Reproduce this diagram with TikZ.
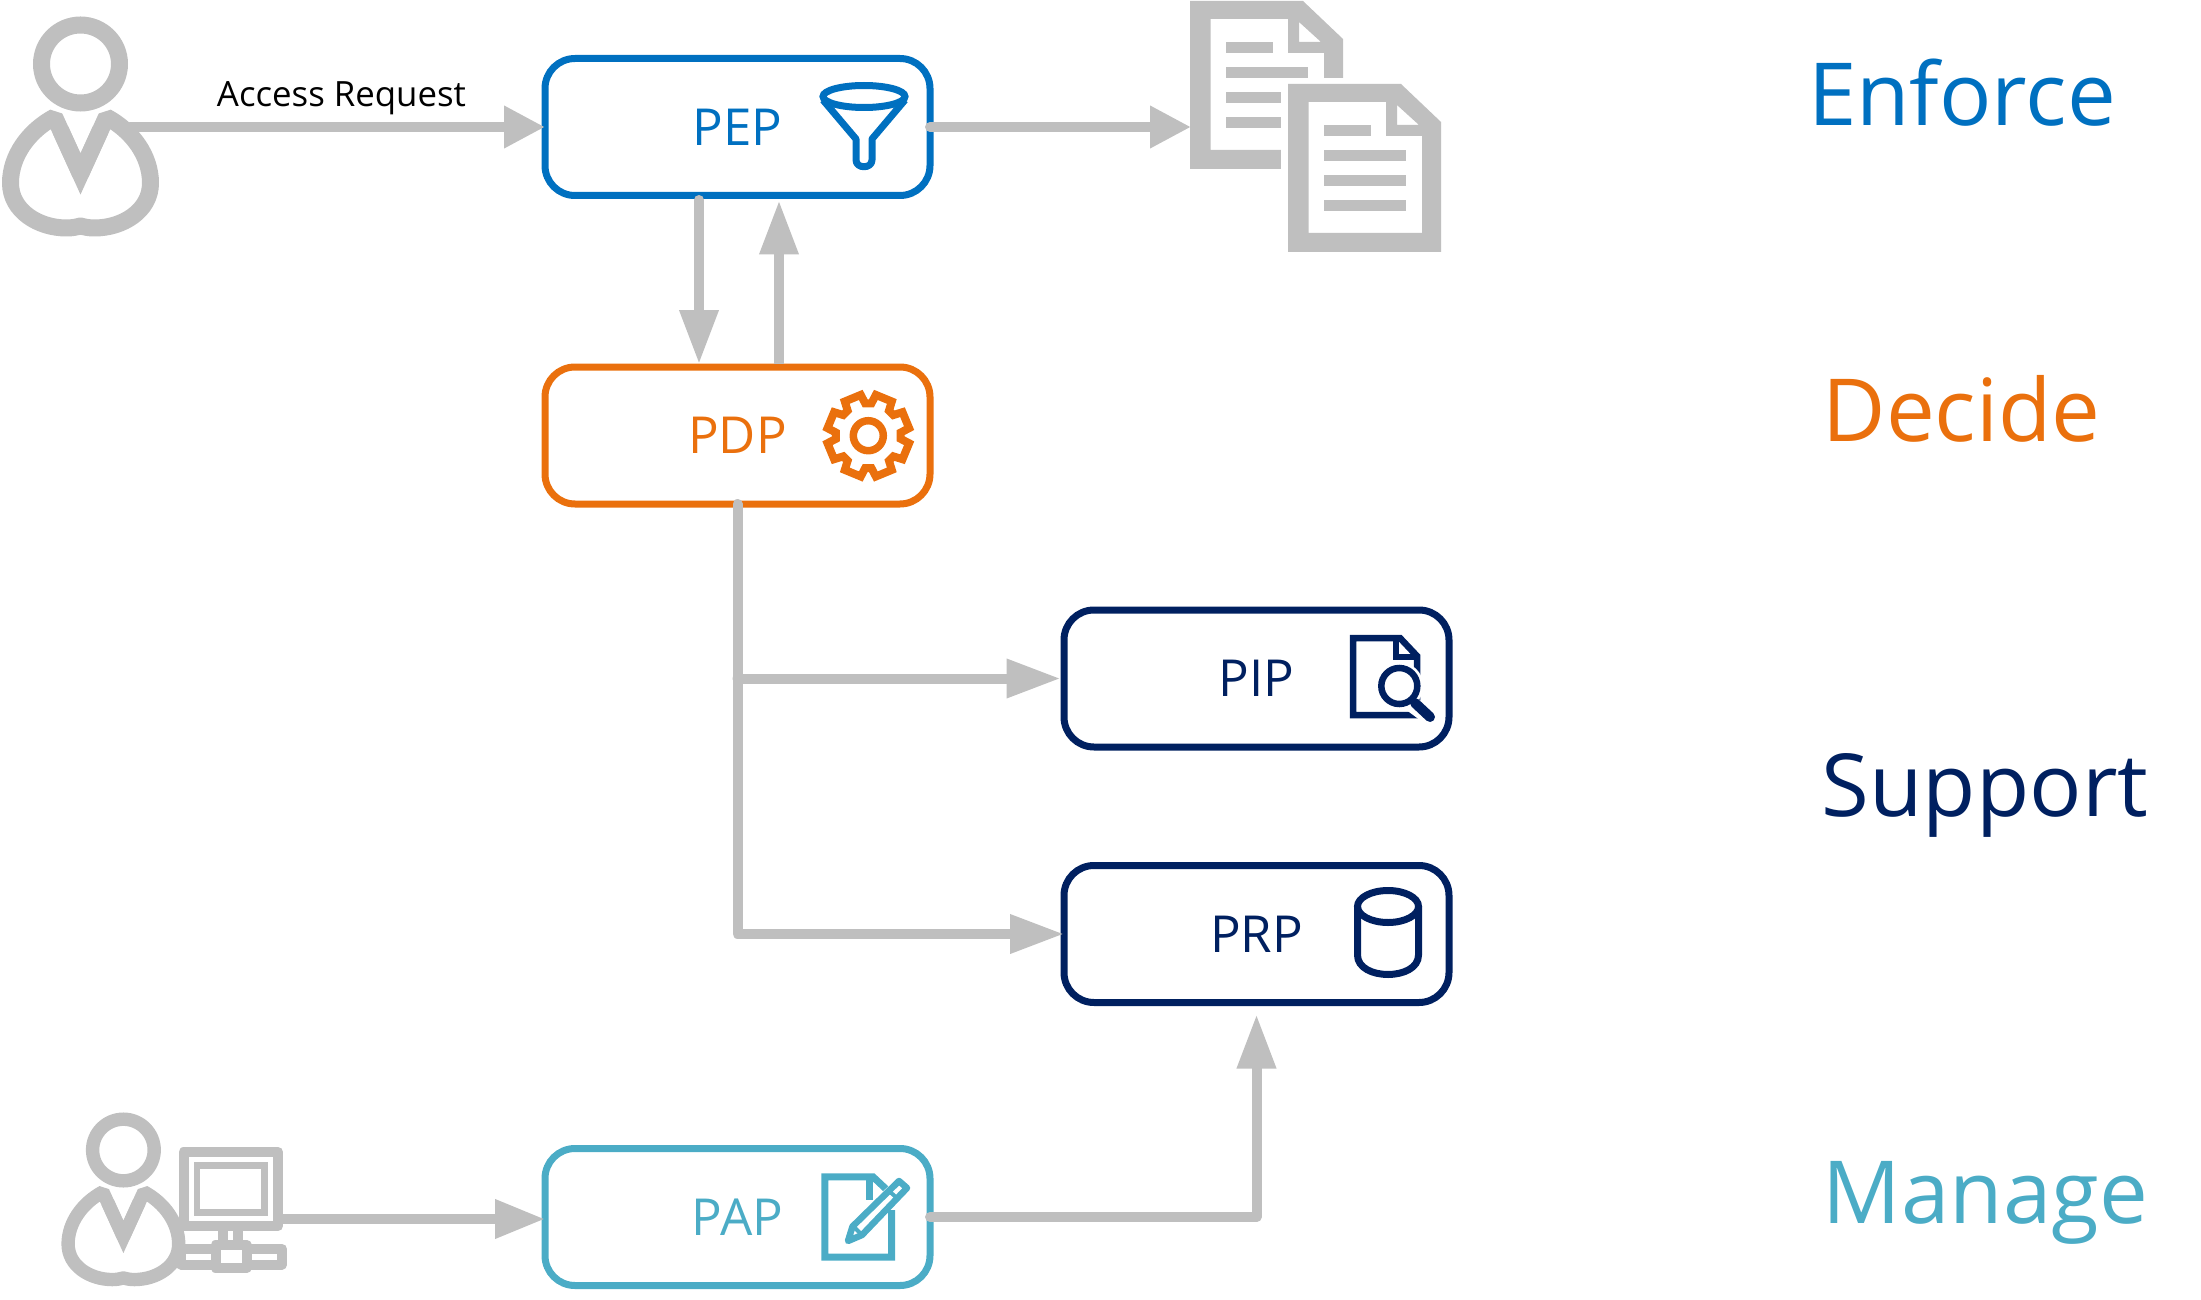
\documentclass[tikz,border=0pt]{standalone}
\usepackage{fontspec}
\setmainfont{Open Sans}
\usetikzlibrary{arrows.meta}

\definecolor{enforcecol}{HTML}{0070C0}
\definecolor{decidecol}{HTML}{EA700D}
\definecolor{supportcol}{HTML}{002060}
\definecolor{managecol}{HTML}{4BACC6}
\definecolor{flowcol}{HTML}{BFBFBF}

\tikzset{
  box/.style={draw=#1,text=#1,line width=7pt,rounded corners=30pt,minimum width=385pt,minimum height=137pt,
    inner sep=0pt,outer sep=0pt,font=\fontsize{51}{51}\selectfont},
  tier/.style={text=#1,anchor=base,inner sep=0pt,font=\fontsize{87}{87}\selectfont},
  flowline/.style={draw=flowcol,line width=10pt,line cap=round,line join=round},
  flow/.style={flowline,-{Triangle[length=#1,width=37pt]}},
  flow/.default=54pt,
  flowwide/.style={flowline,-{Triangle[length=41pt,width=40pt]}},
  icon/.style={draw=#1,line width=6.5pt},
  person/.pic={
    \draw[flowcol] (0,0) circle (39);
    \draw[flowcol,line join=bevel] (0,110) -- (-26,53) .. controls (-52,67) and (-70,92) .. (-70,119)
      .. controls (-70,147) and (-42,164) .. (-14,164) .. controls (-8,164) and (-4,163) .. (0,162)
      .. controls (4,163) and (8,164) .. (14,164) .. controls (42,164) and (70,147) .. (70,119)
      .. controls (70,92) and (52,67) .. (26,53) -- cycle;
    \draw[flowcol,line join=miter] (-20,66) -- (0,110) -- (20,66);
  },
  sheet/.pic={
    \fill[flowcol,even odd rule] (0,0) -- (113,0) -- (153,38) -- (153,168) -- (0,168) -- cycle
      (20.5,18) -- (98,18) -- (98,52) -- (134,52) -- (134,149) -- (20.5,149) -- cycle
      (109,21) -- (109,41) -- (131,41) -- cycle;
    \foreach \y/\w in {41/83,66/118,91/118,116/118}
      \fill[flowcol] (36,\y) rectangle (\w,\y+11);
  }
}

\begin{document}
\begin{tikzpicture}[x=1pt,y=-1pt]
  \useasboundingbox (0,0) rectangle (2201,1300);

  \node[box=enforcecol] (pep) at (737.5,127) {PEP};
  \node[box=decidecol] (pdp) at (737.5,435.5) {PDP};
  \node[box=supportcol] (pip) at (1256.5,678.5) {PIP};
  \node[box=supportcol] (prp) at (1256.5,934) {PRP};
  \node[box=managecol] (pap) at (737.5,1217) {PAP};

  \node[tier=enforcecol] (enforce) at (1962,125.7) {Enforce};
  \node[tier=decidecol] (decide) at (1961.5,441.5) {Decide};
  \node[tier=supportcol] (support) at (1985,816) {Support};
  \node[tier=managecol] (manage) at (1985.5,1223) {Manage};

  \pic[line width=17pt] at (80.5,64) {person};
  \pic[scale=.79,line width=13.4pt] at (123.4,1150) {person};

  \pic at (1190,1) {sheet};
  \fill[white] (1281,78) rectangle (1442,252);
  \pic at (1288,84) {sheet};

  % funnel
  \draw[icon=enforcecol,line width=7pt] (864,96.5) ellipse [x radius=41,y radius=11];
  \draw[icon=enforcecol,line width=7pt,line join=round] (823,100) -- (856,139) -- (856,160) .. controls (856,169) and (872,169) .. (872,160)
    -- (872,139) -- (905,100);

  % gear
  \begin{scope}[shift={(868.3,435.7)}]
    \draw[icon=decidecol,line width=8pt] (22.5-17:32.5) \foreach \a in {22.5,67.5,...,337.5} {
      -- (\a-17:32.5) -- (\a-12:41.5) -- (\a+12:41.5) -- (\a+17:32.5) } -- cycle;
    \draw[icon=decidecol,line width=7.5pt] (0,0) circle (15);
  \end{scope}

  % page with lens
  \draw[icon=supportcol] (1353,638) -- (1400,638) -- (1417,656) -- (1417,715) -- (1353,715) -- cycle;
  \draw[icon=supportcol] (1396,638) -- (1396,657) -- (1417,657);
  \fill[white] (1399.3,686) circle (24);
  \draw[white,line width=16pt] (1413,705) -- (1432,719);
  \draw[icon=supportcol] (1399.3,686) circle (18);
  \draw[icon=supportcol,line width=10pt,line cap=round] (1415,703) -- (1430,717);

  % cylinder
  \draw[icon=supportcol,line width=7pt] (1388,906.5) ellipse [x radius=30.5,y radius=16];
  \draw[icon=supportcol,line width=7pt] (1357.5,906.5) -- (1357.5,955) .. controls (1357.5,981) and (1418.5,981) .. (1418.5,955) -- (1418.5,906.5);

  % page with pencil
  \draw[icon=managecol,line width=7pt] (891.5,1210) -- (891.5,1257) -- (824.8,1257) -- (824.8,1176.8) -- (873,1176.8) -- (886,1189);
  \draw[icon=managecol] (869.5,1177) -- (869.5,1200);
  \draw[white,line width=18pt] (855,1230) -- (905,1183);
  \fill[white] (852.5,1226.5) -- (899,1181) -- (907,1188) -- (862,1235) -- (848,1241) -- cycle;
  \draw[icon=managecol,line join=round] (852.5,1226.5) -- (899,1181) -- (907,1188) -- (862,1235) -- (848,1241) -- cycle;
  \draw[icon=managecol,line width=4pt] (889,1191) -- (897,1198);
  \draw[icon=managecol,line width=4pt] (853,1226) -- (862,1235);

  % computer
  \draw[flowcol,fill=white,line width=10pt,line join=round] (183.6,1152) rectangle (278,1226);
  \draw[flowcol,line width=6.5pt] (197,1165.5) rectangle (264.5,1212.5);
  \draw[flowcol,line width=10pt] (222.8,1231) -- (222.8,1242);
  \draw[flowcol,line width=10pt] (238.2,1231) -- (238.2,1242);
  \draw[flowcol,fill=white,line width=10pt,line join=round] (181,1249) rectangle (282,1264.5);
  \draw[flowcol,fill=white,line width=10pt,line join=round] (215.5,1245) rectangle (246.5,1268);

  \coordinate (user) at (130,127);
  \coordinate (docs) at (1191,127);
  \coordinate (admin) at (281,1219);

  \draw[flowwide] (user) -- node[anchor=base,inner sep=0pt,yshift=20.5pt,xshift=4pt,font=\fontsize{34.8}{34.8}\selectfont] (request) {Access Request} (pep.west);
  \draw[flowwide] (pep.east) -- (docs);
  \draw[flow] ([xshift=-38.5pt,yshift=-4.5pt]pep.south) -- ([xshift=-38.5pt,yshift=3pt]pdp.north);
  \draw[flow,line cap=butt] ([xshift=41.5pt,yshift=3.5pt]pdp.north) -- ([xshift=41.5pt,yshift=-5pt]pep.south);
  \draw[flow] (pdp.south) |- (prp.west);
  \draw[flow] (pdp.south |- pip.west) -- ([xshift=-3.5pt]pip.west);
  \draw[flow=50pt] (admin) -- (pap.west |- admin);
  \draw[flow] (pap.east) -| ([yshift=-12pt]prp.south);
\end{tikzpicture}
\end{document}
